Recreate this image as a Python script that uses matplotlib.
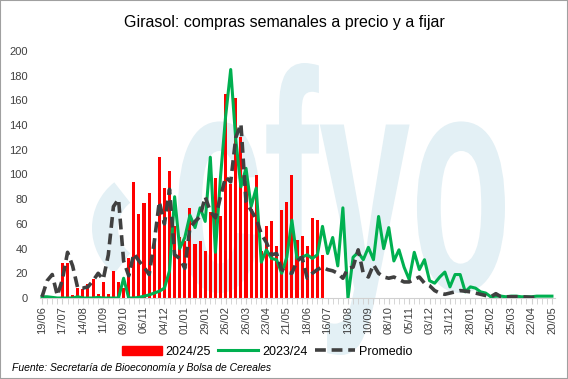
import matplotlib
matplotlib.use("Agg")
import matplotlib.pyplot as plt
from matplotlib.patches import Patch, PathPatch, Wedge
from matplotlib.lines import Line2D
from matplotlib.textpath import TextPath
from matplotlib.font_manager import FontProperties
from matplotlib.transforms import Affine2D
import numpy as np

plt.rcParams['font.family'] = ['Liberation Sans', 'DejaVu Sans']

# tick labels, one every 4 weeks
tick_labels = ['19/06', '17/07', '14/08', '11/09', '09/10', '06/11', '04/12', '01/01',
               '29/01', '26/02', '26/03', '23/04', '21/05', '18/06', '16/07', '13/08',
               '10/09', '08/10', '05/11', '03/12', '31/12', '28/01', '25/02', '25/03',
               '22/04', '20/05']

# 2024/25 weekly purchases (bars), starting at week 4
bars_2425 = [28, 28, 2.5, 8, 7, 11, 15, 3, 13, 3, 22, 13, 8, 32, 94, 68, 77, 85, 46,
             114, 89, 103, 58, 49, 46, 73, 44, 46, 38, 70, 97, 66, 165, 92, 162, 130,
             95, 72, 100, 38, 58, 62, 42, 71, 78, 100, 47, 50, 42, 65, 63, 35]
bars_start = 4

# 2023/24 weekly purchases (green line)
line_2324 = [1, 1, 0.5, 0, 0, 0, 0, 1, 0, 0, 0, 0.5, 0, 0, 0, 0, 16, 0, 0, 0.5,
             1.5, 2.5, 4, 5.5, 8, 22, 82, 40, 49, 67, 57, 73, 62, 114, 37, 98, 147, 185,
             128, 90, 105, 74, 89, 29, 39, 32, 31, 20, 33, 63, 32, 33, 35, 32, 35, 58,
             36, 49, 26, 73, 0, 33, 37, 31, 41, 31, 66, 40, 57, 30, 39, 25, 15, 37, 23,
             31, 14, 12, 17, 21, 9, 19, 19, 5, 9, 8, 5, 4, 1, 1.5, 1.5, 1, 1.5, 1.5,
             1, 1, 1, 1.5, 1.5, 1.5, 1.5]

# Promedio (dashed)
line_prom = [1, 14, 19, 2, 15, 37, 26, 8, 8, 9, 14, 20, 15, 35, 74, 80, 30, 18, 36, 30,
             25, 19, 45, 78, 60, 88, 35, 32, 24, 57, 62, 66, 82, 70, 65, 82, 98, 94,
             130, 141, 78, 71, 64, 52, 45, 35, 36, 23, 21, 20, 30, 33, 16, 20, 23, 25,
             23, 22, 20, 16, 24, 25, 39, 20, 17, 27, 20, 17, 16, 17, 15, 13, 13, 15, 17,
             12, 10, 6, 4, 3, 4, 5, 6, 5.5, 5, 4, 3, 2, 1, 3.5, 1, 1, 1, 1, 1, 0.8,
             0.5, 0.5]

red = '#ff0000'
green = '#00b050'
grey = '#404040'
wm_color = '#e3f0f5'
W, H = 568, 379

fig = plt.figure(figsize=(5.68, 3.79), dpi=100)
ax = fig.add_axes([40 / W, 81 / H, 515 / W, 247 / H])
ax.patch.set_alpha(0)

# watermark logo behind the data (pixel coords, origin bottom-left)
px = Affine2D().scale(1 / W, 1 / H) + fig.transFigure
fig.add_artist(Wedge((150, H - 228), 58, 128, 232, width=26, transform=px,
                     color=wm_color, lw=0, zorder=0))
tp = TextPath((0, 0), 'cfyo', size=1, prop=FontProperties(family='Liberation Sans', weight='bold'))
ext = tp.get_extents()
x0, x1, ybase, ytop = 178, 505, 290, 63
sx = (x1 - x0) / ext.width
sy = (ybase - ytop) / ext.y1
wm = Affine2D().translate(-ext.x0, 0).scale(sx, sy).translate(x0, H - ybase)
fig.add_artist(PathPatch(tp, transform=wm + px, color=wm_color, lw=0, zorder=0))

xb = np.arange(bars_start, bars_start + len(bars_2425))
ax.bar(xb, bars_2425, width=0.6, color=red, zorder=2)
ax.plot(np.arange(len(line_2324)), line_2324, color=green, lw=2.2, zorder=3)
ax.plot(np.arange(len(line_prom)), line_prom, color=grey, lw=2.6,
        dashes=(3, 1.6), zorder=4)

ax.set_xlim(-0.4, 100.6)
ax.set_ylim(0, 200)
ax.set_yticks(np.arange(0, 201, 20))
ax.set_xticks(np.arange(0, 101, 4))
ax.set_xticklabels(tick_labels, rotation=90)
ax.set_xticks(np.arange(0, 101, 1), minor=True)
ax.tick_params(axis='x', which='both', length=4, color='#d0d0d0', labelsize=8,
               labelcolor=grey, pad=2)
ax.tick_params(axis='y', length=0, labelsize=8, labelcolor=grey, pad=9)
for s in ['top', 'right', 'left']:
    ax.spines[s].set_visible(False)
ax.spines['bottom'].set_color('#d0d0d0')

fig.text(0.5, 0.94, 'Girasol: compras semanales a precio y a fijar', ha='center',
         va='center', fontsize=11.5, color='black')

handles = [Patch(color=red), Line2D([], [], color=green, lw=2.2),
           Line2D([], [], color=grey, lw=2.6, dashes=(3, 1.6))]
fig.legend(handles, ['2024/25', '2023/24', 'Promedio'], loc='center', ncol=3,
           bbox_to_anchor=(0.47, 0.072), frameon=False, fontsize=9,
           handlelength=3.2, handletextpad=0.3, columnspacing=0.6)

fig.text(0.021, 0.03, 'Fuente: Secretaría de Bioeconomía y Bolsa de Cereales',
         fontsize=7.5, style='italic', color='black', va='center')

fig.add_artist(plt.Rectangle((0, 0), 1, 1, transform=fig.transFigure, fill=False,
                             edgecolor='#a0a0a0', lw=1.5))

fig.savefig('out.png', dpi=100)
